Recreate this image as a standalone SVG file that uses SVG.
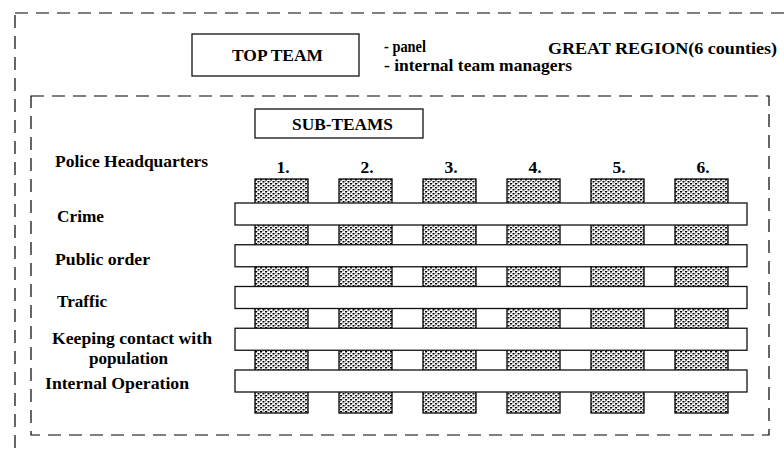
<svg xmlns="http://www.w3.org/2000/svg" width="784" height="450" viewBox="0 0 784 450" font-family="'Liberation Serif', 'DejaVu Serif', serif" font-weight="bold">
<style>
  .lbl { font-family: 'Liberation Serif', 'DejaVu Serif', serif; font-weight: bold; font-size: 17.5px; fill: #000; }
  .dash { fill: none; stroke: #000; stroke-width: 1.2; stroke-dasharray: 13 8; }
  .box { fill: #fff; stroke: #111; stroke-width: 1.3; }
  .hatch { fill: url(#dots); stroke: #000; stroke-width: 1.3; }
  .bar { fill: #fff; stroke: #111; stroke-width: 1.3; }
</style>
<defs>
  <pattern id="dots" x="255" y="179" width="5" height="4" patternUnits="userSpaceOnUse">
    <rect width="5" height="4" fill="#fff"/>
    <rect x="0" y="0" width="2" height="1.5" fill="#000"/>
    <rect x="2.5" y="2" width="2" height="1.5" fill="#000"/>
    <rect x="2.5" y="0" width="1" height="1" fill="#999"/>
    <rect x="0" y="2" width="1" height="1" fill="#999"/>
  </pattern>
</defs>
<rect width="784" height="450" fill="#fff"/>

<g id="great-region">
  <rect class="dash" x="15" y="13" width="820" height="500"/>
  <text class="lbl" x="548" y="54" textLength="229" lengthAdjust="spacingAndGlyphs">GREAT REGION(6 counties)</text>
</g>

<g id="top-team">
  <rect class="box" x="192" y="34" width="167" height="42"/>
  <text class="lbl" x="232" y="61" textLength="91" lengthAdjust="spacingAndGlyphs">TOP TEAM</text>
</g>

<g id="top-team-notes">
  <text class="lbl" x="384" y="52" textLength="42" lengthAdjust="spacingAndGlyphs">- panel</text>
  <text class="lbl" x="384" y="71" textLength="188" lengthAdjust="spacingAndGlyphs">- internal team managers</text>
</g>

<g id="police-hq">
  <rect class="dash" x="31" y="96" width="738" height="339"/>
  <text class="lbl" x="55" y="167" textLength="153" lengthAdjust="spacingAndGlyphs">Police Headquarters</text>
</g>

<g id="sub-teams">
  <rect class="box" x="255" y="109" width="168" height="29"/>
  <text class="lbl" x="292" y="130" textLength="101" lengthAdjust="spacingAndGlyphs">SUB-TEAMS</text>
</g>

<g id="columns">
  <g id="col-1"><text class="lbl" x="283" y="173" text-anchor="middle">1.</text><rect class="hatch" x="255" y="179" width="53" height="234"/></g>
  <g id="col-2"><text class="lbl" x="367" y="173" text-anchor="middle">2.</text><rect class="hatch" x="339" y="179" width="53" height="234"/></g>
  <g id="col-3"><text class="lbl" x="451" y="173" text-anchor="middle">3.</text><rect class="hatch" x="423" y="179" width="53" height="234"/></g>
  <g id="col-4"><text class="lbl" x="535" y="173" text-anchor="middle">4.</text><rect class="hatch" x="507" y="179" width="53" height="234"/></g>
  <g id="col-5"><text class="lbl" x="619" y="173" text-anchor="middle">5.</text><rect class="hatch" x="591" y="179" width="53" height="234"/></g>
  <g id="col-6"><text class="lbl" x="703" y="173" text-anchor="middle">6.</text><rect class="hatch" x="675" y="179" width="53" height="234"/></g>
</g>

<g id="row-crime">
  <rect class="bar" x="235" y="203" width="512" height="22"/>
  <text class="lbl" x="57" y="222" textLength="47" lengthAdjust="spacingAndGlyphs">Crime</text>
</g>
<g id="row-public-order">
  <rect class="bar" x="235" y="244.75" width="512" height="22"/>
  <text class="lbl" x="55" y="265" textLength="95" lengthAdjust="spacingAndGlyphs">Public order</text>
</g>
<g id="row-traffic">
  <rect class="bar" x="235" y="286.5" width="512" height="22"/>
  <text class="lbl" x="57" y="307" textLength="50" lengthAdjust="spacingAndGlyphs">Traffic</text>
</g>
<g id="row-contact">
  <rect class="bar" x="235" y="328.25" width="512" height="22"/>
  <text class="lbl" x="52" y="344" textLength="160" lengthAdjust="spacingAndGlyphs">Keeping contact with</text>
  <text class="lbl" x="89" y="364" textLength="79" lengthAdjust="spacingAndGlyphs">population</text>
</g>
<g id="row-internal">
  <rect class="bar" x="235" y="370" width="512" height="22"/>
  <text class="lbl" x="45" y="389" textLength="144" lengthAdjust="spacingAndGlyphs">Internal Operation</text>
</g>
</svg>
